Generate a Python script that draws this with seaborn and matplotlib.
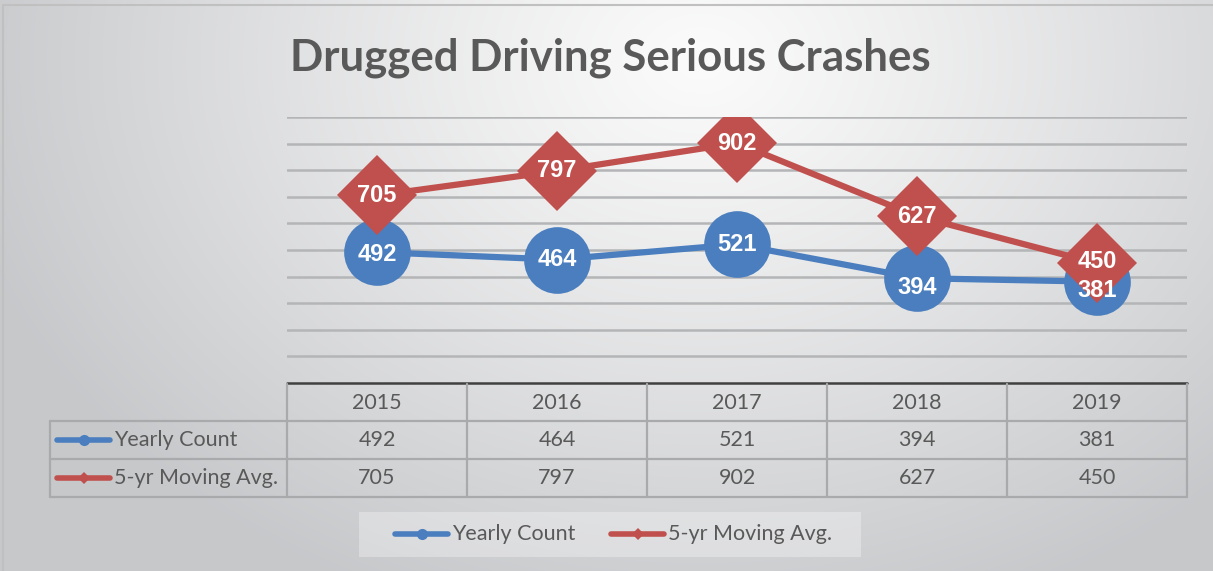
"""
plot.py - Drugged Driving Serious Crashes (line chart + data table, Excel style).
"""

import numpy as np
import pandas as pd
import matplotlib
matplotlib.use("Agg")
import matplotlib.pyplot as plt
from matplotlib.lines import Line2D
import seaborn as sns

YEARS = ["2015", "2016", "2017", "2018", "2019"]
YEARLY_COUNT = [492, 464, 521, 394, 381]
MOVING_AVG = [705, 797, 902, 627, 450]
SERIES = ["Yearly Count", "5-yr Moving Avg."]
TITLE = "Drugged Driving Serious Crashes"

BLUE = "#4A7EBF"
RED = "#C0504D"
TEXT = "#595959"
GRID = "#b4b5b7"

W, H = 1213, 571


def px_axes(fig, x0, y0, x1, y1):
    # axes placed by pixel box (top-left origin)
    return fig.add_axes([x0 / W, 1 - y1 / H, (x1 - x0) / W, (y1 - y0) / H])


def main():
    sns.set_theme(style="white")
    plt.rcParams["font.family"] = ["Lato", "DejaVu Sans"]

    fig = plt.figure(figsize=(W / 100, H / 100), dpi=100)

    # radial grey background
    bg = fig.add_axes([0, 0, 1, 1], zorder=0)
    yy, xx = np.mgrid[0:H, 0:W]
    d = np.sqrt(((xx - 700) / 1.0) ** 2 + ((yy - 60) * 1.3) ** 2)
    t = np.clip(d / 760, 0, 1) ** 1.1
    c0 = np.array([0.985, 0.985, 0.985])
    c1 = np.array([0.78, 0.785, 0.795])
    img = c0[None, None, :] * (1 - t[..., None]) + c1[None, None, :] * t[..., None]
    bg.imshow(img, extent=(0, W, H, 0), aspect="auto", interpolation="bilinear")
    bg.set_xlim(0, W)
    bg.set_ylim(H, 0)
    bg.axis("off")

    # chart border
    bg.plot([3, 3, W + 5], [H + 5, 5, 5], color="#c0c0c0", lw=1.5)

    # title
    bg.text(610, 58, TITLE, ha="center", va="center", fontsize=31.5,
            fontweight="bold", color=TEXT)

    # plot area
    x0, x1, yb, yt = 287, 1187, 383, 117
    ax = px_axes(fig, x0, yt, x1, yb)
    ax.set_zorder(2)
    ax.patch.set_alpha(0)
    for v in range(100, 1001, 100):
        ax.axhline(v, color=GRID, lw=1.8, zorder=1)

    df = pd.DataFrame({
        "pos": list(range(len(YEARS))) * 2,
        "value": YEARLY_COUNT + MOVING_AVG,
        "series": [SERIES[0]] * len(YEARS) + [SERIES[1]] * len(YEARS),
    })
    sns.lineplot(data=df[df.series == SERIES[0]], x="pos", y="value", ax=ax,
                 color=BLUE, lw=4.5, marker="o", markersize=48,
                 markeredgewidth=0, legend=False, zorder=3)
    sns.lineplot(data=df[df.series == SERIES[1]], x="pos", y="value", ax=ax,
                 color=RED, lw=4.5, marker="D", markersize=41,
                 markeredgewidth=0, legend=False, zorder=4)
    # label nudges (in data units) where labels would collide
    blue_dy = [-10, 0, 0, -35, -35]
    red_dy = [0, 0, 0, 0, 8]
    for i, (a, b) in enumerate(zip(YEARLY_COUNT, MOVING_AVG)):
        ax.text(i, a + blue_dy[i], str(a), ha="center", va="center", color="white",
                fontsize=17, fontweight="bold", family="Liberation Sans", zorder=5)
        ax.text(i, b + red_dy[i], str(b), ha="center", va="center", color="white",
                fontsize=17, fontweight="bold", family="Liberation Sans", zorder=6)
    ax.set_xlim(-0.5, len(YEARS) - 0.5)
    ax.set_ylim(0, 1000)
    ax.axis("off")

    # data table
    ov = fig.add_axes([0, 0, 1, 1], zorder=3)
    ov.set_xlim(0, W)
    ov.set_ylim(H, 0)
    ov.axis("off")
    colw = (x1 - x0) / len(YEARS)
    cols = [x0 + i * colw for i in range(len(YEARS) + 1)]
    tc = "#a9aaac"
    ov.plot([x0, x1], [383, 383], color="#404040", lw=1.8)
    for ry in (421, 459, 497):
        ov.plot([50, x1], [ry, ry], color=tc, lw=1.6)
    ov.plot([50, 50], [421, 497], color=tc, lw=1.6)
    for cx in cols:
        ov.plot([cx, cx], [384, 497], color=tc, lw=1.6)
    fs = 15.5
    for i, yr in enumerate(YEARS):
        cx = x0 + (i + 0.5) * colw
        ov.text(cx, 403, yr, ha="center", va="center", fontsize=fs, color=TEXT)
        ov.text(cx, 440, str(YEARLY_COUNT[i]), ha="center", va="center",
                fontsize=fs, color=TEXT)
        ov.text(cx, 478, str(MOVING_AVG[i]), ha="center", va="center",
                fontsize=fs, color=TEXT)

    def key(xa, xb, y, color, marker, ms):
        ov.add_line(Line2D([xa, xb], [y, y], color=color, lw=4,
                           solid_capstyle="round"))
        ov.add_line(Line2D([(xa + xb) / 2], [y], color=color, marker=marker,
                           markersize=ms, markeredgewidth=0, lw=0))

    key(57, 110, 440, BLUE, "o", 8)
    key(57, 110, 478, RED, "D", 6)
    ov.text(114, 440, SERIES[0], ha="left", va="center", fontsize=fs, color=TEXT)
    ov.text(114, 478, SERIES[1], ha="left", va="center", fontsize=fs, color=TEXT)

    # legend box
    ov.add_patch(plt.Rectangle((359, 512), 502, 45, facecolor="white",
                               alpha=0.3, edgecolor="none"))
    key(395, 448, 534, BLUE, "o", 8)
    key(611, 664, 534, RED, "D", 6)
    ov.text(452, 534, SERIES[0], ha="left", va="center", fontsize=fs, color=TEXT)
    ov.text(668, 534, SERIES[1], ha="left", va="center", fontsize=fs, color=TEXT)

    fig.savefig("out.png", dpi=100)
    plt.close(fig)


if __name__ == "__main__":
    main()
